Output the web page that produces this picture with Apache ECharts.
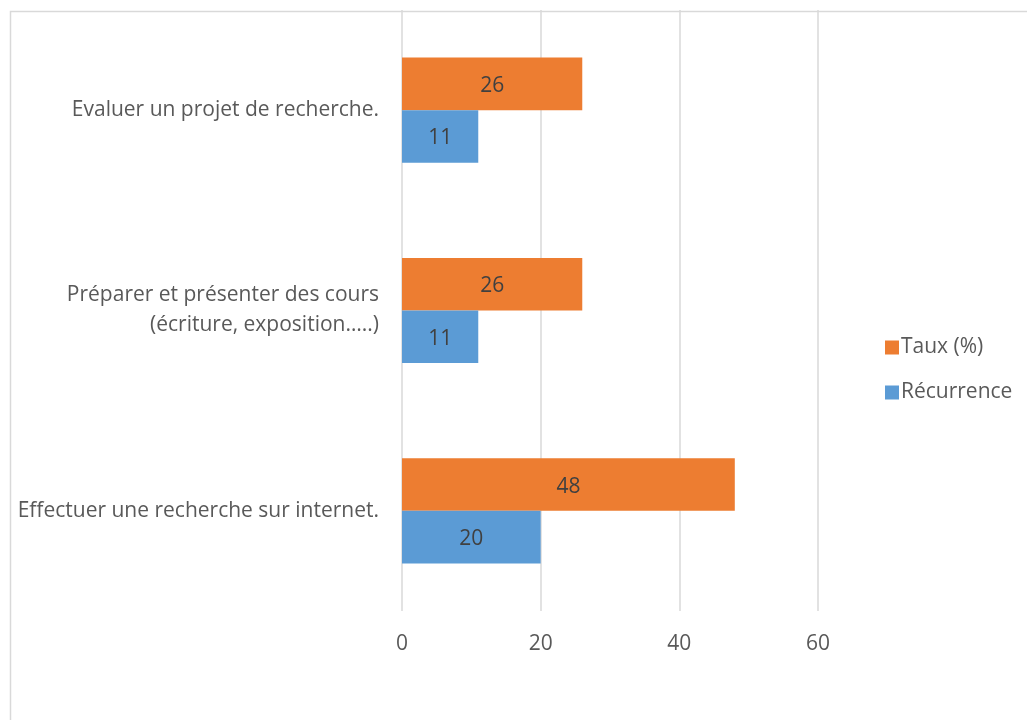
<!DOCTYPE html>
<html>
<head>
<meta charset="utf-8">
<script src="https://cdn.jsdelivr.net/npm/echarts@6/dist/echarts.min.js"></script>
<style>html,body{margin:0;padding:0;background:#fff;}#c{width:1027px;height:720px;}</style>
</head>
<body>
<div id="c"></div>
<script>
const categories = ["Effectuer une recherche sur internet.", "Préparer et présenter des cours\n(écriture, exposition…..)", "Evaluer un projet de recherche."];
const recurrence = [20, 11, 11];
const taux = [48, 26, 26];
const xTicks = [0, 20, 40, 60];

const FONT = "'Open Sans', sans-serif";
const FS = 21;
const chart = echarts.init(document.getElementById('c'), null, {renderer: 'canvas'});
chart.setOption({
  backgroundColor: '#fff',
  animation: false,
  textStyle: {fontFamily: FONT},
  graphic: [{
    type: 'rect', left: 8, top: 9,
    shape: {width: 1100, height: 800},
    style: {fill: 'none', stroke: '#d9d9d9', lineWidth: 1.5},
    z: -1, silent: true
  }],
  grid: {left: 402, right: 209, top: 10, bottom: 109, containLabel: false},
  legend: {
    orient: 'vertical', left: 880, top: 332,
    itemWidth: 14, itemHeight: 14, itemGap: 24,
    icon: 'rect',
    data: ['Taux (%)', 'Récurrence'],
    textStyle: {fontFamily: FONT, fontSize: FS, color: '#595959', padding: [0,0,0,-3]}
  },
  xAxis: {
    type: 'value', min: xTicks[0], max: xTicks[xTicks.length-1], interval: 20,
    axisLine: {show: false}, axisTick: {show: false},
    axisLabel: {fontFamily: FONT, fontSize: FS, color: '#595959', margin: 23},
    splitLine: {show: true, lineStyle: {color: '#d9d9d9', width: 1.5}}
  },
  yAxis: {
    type: 'category', data: categories,
    axisLine: {show: false}, axisTick: {show: false},
    axisLabel: {fontFamily: FONT, fontSize: FS, color: '#595959', margin: 23, align: 'right', lineHeight: 30, padding: [4,0,0,0]}
  },
  series: [
    {
      name: 'Taux (%)', type: 'bar', data: taux,
      barGap: '0%', barCategoryGap: '47.5%',
      itemStyle: {color: '#ed7d31'},
      label: {show: true, position: 'inside', offset: [0, 2], color: '#404040', fontSize: FS, fontFamily: FONT}
    },
    {
      name: 'Récurrence', type: 'bar', data: recurrence,
      barGap: '0%', barCategoryGap: '47.5%',
      itemStyle: {color: '#5b9bd5'},
      label: {show: true, position: 'inside', offset: [0, 2], color: '#404040', fontSize: FS, fontFamily: FONT}
    }
  ]
});
</script>
</body>
</html>
